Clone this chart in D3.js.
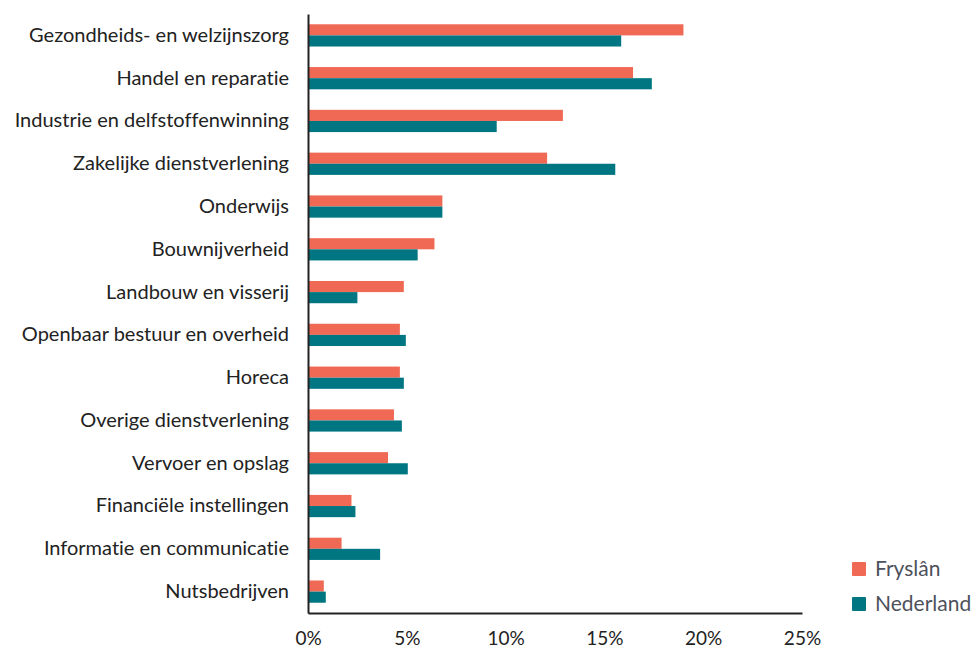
<!DOCTYPE html>
<html>
<head>
<meta charset="utf-8">
<script src="https://cdn.jsdelivr.net/npm/d3@7"></script>
<style>
  body { margin: 0; background: #fff; }
  text { font-family: Lato, "Open Sans", sans-serif; font-variant-ligatures: none; }
</style>
</head>
<body>
<div id="chart"></div>
<script>
var sectors = [
  "Gezondheids- en welzijnszorg", "Handel en reparatie", "Industrie en delfstoffenwinning",
  "Zakelijke dienstverlening", "Onderwijs", "Bouwnijverheid", "Landbouw en visserij",
  "Openbaar bestuur en overheid", "Horeca", "Overige dienstverlening", "Vervoer en opslag",
  "Financiële instellingen", "Informatie en communicatie", "Nutsbedrijven"
];
var fryslan   = [19.0, 16.45, 12.9, 12.1, 6.8, 6.4, 4.85, 4.65, 4.65, 4.35, 4.05, 2.2, 1.7, 0.8];
var nederland = [15.85, 17.4, 9.55, 15.55, 6.8, 5.55, 2.5, 4.95, 4.85, 4.75, 5.05, 2.4, 3.65, 0.9];
var seriesNames = ["Fryslân", "Nederland"];
var seriesColors = ["#f06955", "#007682"];
var xTicks = [0, 5, 10, 15, 20, 25];

var width = 973, height = 648;
var margin = { top: 14, right: 171, bottom: 35, left: 308 };

var svg = d3.select("#chart").append("svg")
    .attr("width", width)
    .attr("height", height);

var x = d3.scaleLinear().domain([0, 25]).range([margin.left, width - margin.right]);
var y = d3.scaleBand().domain(sectors)
    .range([margin.top, height - margin.bottom])
    .paddingInner(0.48).paddingOuter(0.24);
var ySub = d3.scaleBand().domain(seriesNames).range([0, y.bandwidth()]);

var rows = sectors.map(function (s, i) {
  return { sector: s, values: [fryslan[i], nederland[i]] };
});

var group = svg.selectAll(".row").data(rows).enter().append("g")
    .attr("class", "row")
    .attr("transform", function (d) { return "translate(0," + y(d.sector) + ")"; });

group.selectAll("rect").data(function (d) {
  return d.values.map(function (v, j) { return { name: seriesNames[j], value: v, color: seriesColors[j] }; });
}).enter().append("rect")
  .attr("x", x(0))
  .attr("y", function (d) { return ySub(d.name); })
  .attr("width", function (d) { return x(d.value) - x(0); })
  .attr("height", ySub.bandwidth())
  .attr("fill", function (d) { return d.color; });

// x axis
var xAxis = svg.append("g")
    .attr("transform", "translate(0," + (height - margin.bottom) + ")")
    .call(d3.axisBottom(x).tickValues(xTicks).tickSize(0).tickPadding(19)
      .tickFormat(function (d) { return d + "%"; }));
xAxis.select(".domain").attr("stroke", "#222").attr("stroke-width", 2);
xAxis.selectAll("text").attr("font-size", 19).attr("fill", "#222")
    .style("font-family", "Lato, sans-serif");

// y axis
var yAxis = svg.append("g")
    .attr("transform", "translate(" + margin.left + ",0)")
    .call(d3.axisLeft(y).tickSize(0).tickPadding(19));
yAxis.select(".domain").attr("stroke", "#222").attr("stroke-width", 2);
yAxis.selectAll("text").attr("font-size", 20).attr("fill", "#222")
    .style("font-family", "Lato, sans-serif");

// legend
var legend = svg.selectAll(".legend").data(seriesNames).enter().append("g")
    .attr("class", "legend")
    .attr("transform", function (d, i) { return "translate(852," + (562 + i * 35) + ")"; });
legend.append("rect").attr("width", 14).attr("height", 14).attr("rx", 1)
    .attr("fill", function (d, i) { return seriesColors[i]; });
legend.append("text").attr("x", 23).attr("y", 7).attr("dy", "0.35em")
    .attr("font-size", 21).attr("fill", "#4d515b")
    .text(function (d) { return d; });
</script>
</body>
</html>
